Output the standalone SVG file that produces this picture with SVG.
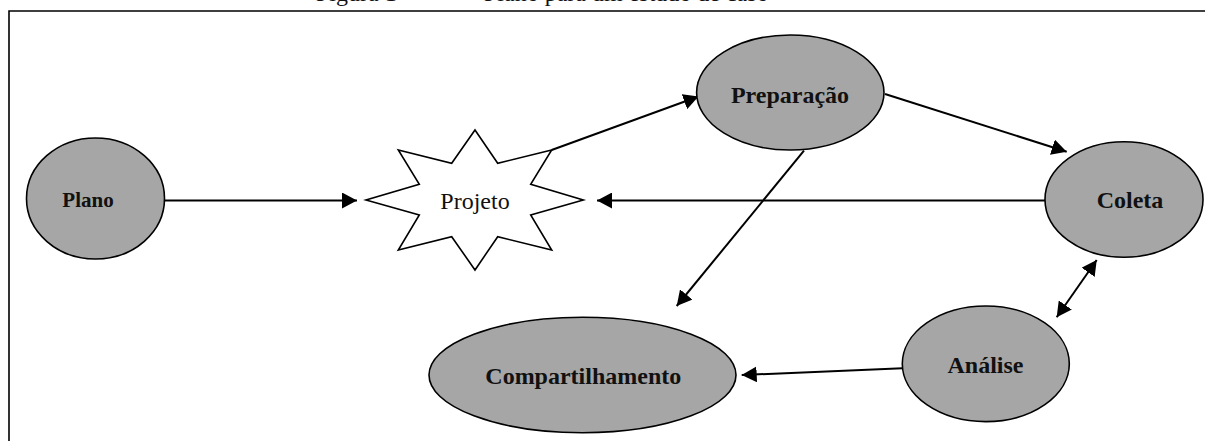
<svg xmlns="http://www.w3.org/2000/svg" width="1205" height="441" viewBox="0 0 1205 441">
  <style>
    .node { fill: #a6a6a6; stroke: #000; stroke-width: 1.6; }
    .star { fill: #fff; stroke: #000; stroke-width: 1.6; }
    .lbl { font-family: "Liberation Serif", "Times New Roman", serif; font-size: 24px; font-weight: bold; fill: #111; text-anchor: middle; }
    .plain { font-family: "Liberation Serif", "Times New Roman", serif; font-size: 24px; fill: #111; text-anchor: middle; }
    .title { font-family: "Liberation Serif", "Times New Roman", serif; font-size: 24px; fill: #111; }
    .edge { fill: none; stroke: #000; stroke-width: 2; }
  </style>
  <defs>
    <marker id="arrow" markerUnits="userSpaceOnUse" markerWidth="16" markerHeight="16" refX="15" refY="8" orient="auto-start-reverse">
      <path d="M0,0 L15,8 L0,16 Z" fill="#000"/>
    </marker>
  </defs>

  <rect width="1205" height="441" fill="#fff"/>

  <!-- caption, mostly above the top edge -->
  <text class="title" y="1"><tspan x="316">Figura 1 –</tspan><tspan x="484">Plano para um estudo de caso</tspan></text>

  <!-- outer frame -->
  <path d="M9,441 V11 H1205" fill="none" stroke="#000" stroke-width="1.6"/>

  <!-- connectors -->
  <g id="connectors">
    <line class="edge" x1="164" y1="200.5" x2="357" y2="200.5" marker-end="url(#arrow)"/>
    <line class="edge" x1="551.7" y1="150" x2="698.5" y2="96.5" marker-end="url(#arrow)"/>
    <line class="edge" x1="885" y1="94" x2="1066.7" y2="151.7" marker-end="url(#arrow)"/>
    <line class="edge" x1="1045" y1="200.5" x2="597" y2="200.5" marker-end="url(#arrow)"/>
    <line class="edge" x1="804" y1="150.7" x2="676.7" y2="306" marker-end="url(#arrow)"/>
    <line class="edge" x1="1056.7" y1="317.3" x2="1096.7" y2="260" marker-start="url(#arrow)" marker-end="url(#arrow)"/>
    <line class="edge" x1="902.5" y1="368.3" x2="741.7" y2="375" marker-end="url(#arrow)"/>
  </g>

  <g id="plano">
    <ellipse class="node" cx="95.5" cy="198.5" rx="69" ry="60.5"/>
    <text class="lbl" x="88" y="207" style="font-size:21px">Plano</text>
  </g>

  <g id="projeto">
    <polygon class="star" points="475,130 497.7,163.3 551.7,150 530.7,184.3 583.3,200 530.7,215 551.7,250 497.7,236.7 475,270 451.7,236.7 398.3,250 419.3,215 366,200 419.3,184.3 398.3,150 451.7,163.3"/>
    <text class="plain" x="475" y="209">Projeto</text>
  </g>

  <g id="preparacao">
    <ellipse class="node" cx="790.3" cy="92.5" rx="93.7" ry="57.5"/>
    <text class="lbl" x="790" y="102.5">Preparação</text>
  </g>

  <g id="coleta">
    <ellipse class="node" cx="1124" cy="199.5" rx="79" ry="57.8"/>
    <text class="lbl" x="1130" y="208.3">Coleta</text>
  </g>

  <g id="analise">
    <ellipse class="node" cx="985.8" cy="363.8" rx="83.5" ry="57.8"/>
    <text class="lbl" x="985.5" y="372.7">Análise</text>
  </g>

  <g id="compartilhamento">
    <ellipse class="node" cx="582.5" cy="375" rx="153.5" ry="57.7"/>
    <text class="lbl" x="583.3" y="384.3">Compartilhamento</text>
  </g>
</svg>
